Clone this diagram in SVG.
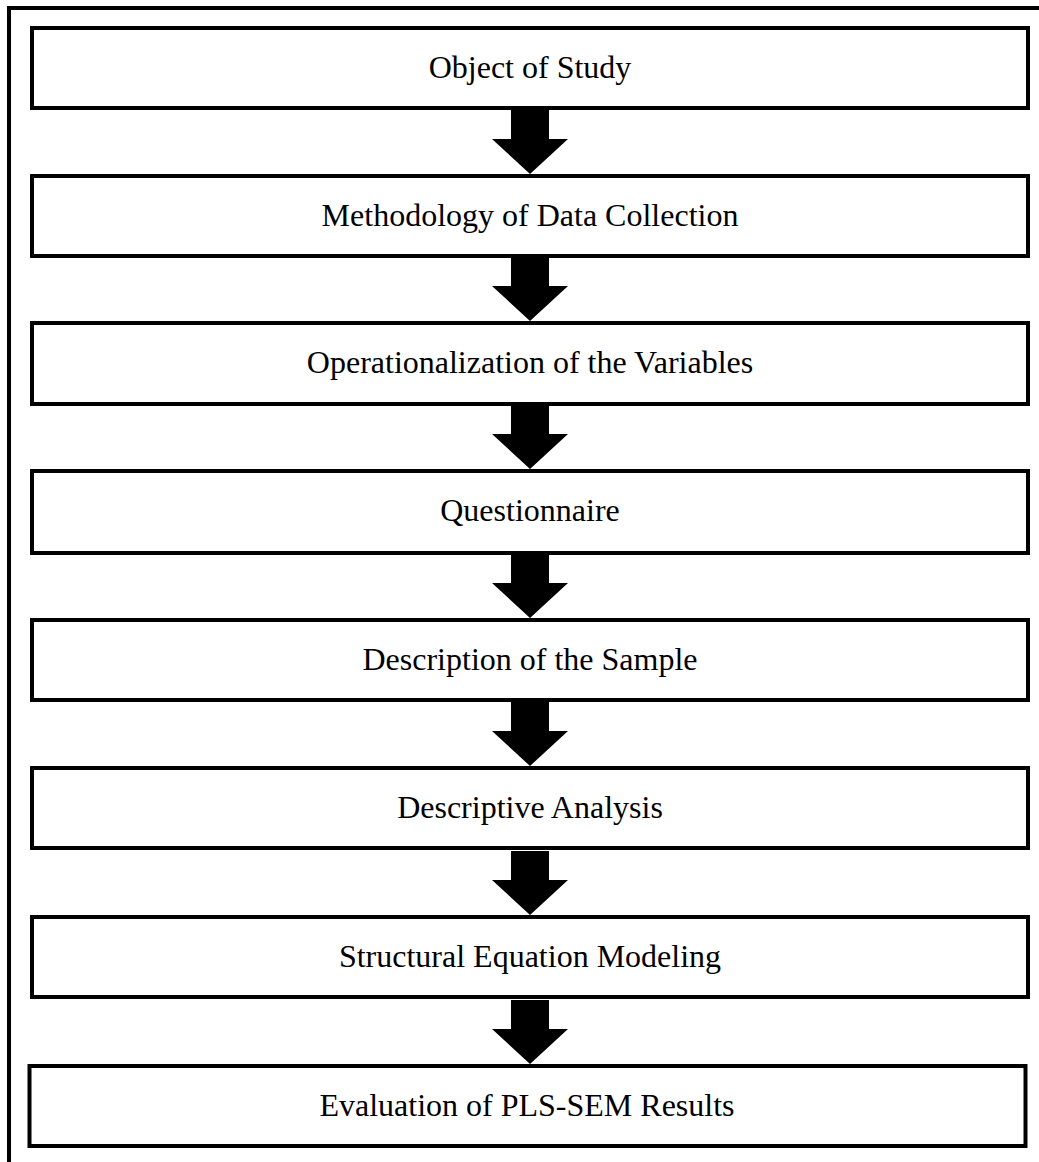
<svg xmlns="http://www.w3.org/2000/svg" width="1039" height="1162" viewBox="0 0 1039 1162">
  <style>
    .box { fill: #ffffff; stroke: #000000; stroke-width: 4; }
    .label { font-family: "Liberation Serif", "Times New Roman", serif; font-size: 32px; fill: #000000; text-anchor: middle; }
    .frame { fill: none; stroke: #000000; stroke-width: 4; }
    .arrow { fill: #000000; stroke: none; }
  </style>
  <defs>
    <!-- block arrow, tip at (0,0), drawn upward from the tip -->
    <path id="blockArrow" d="M -19 -64 L 19 -64 L 19 -35 L 38 -35 L 0 0 L -38 -35 L -19 -35 Z"/>
  </defs>
  <rect width="1039" height="1162" fill="#ffffff"/>

  <!-- open outer frame: top and left edges -->
  <path class="frame" d="M 9 1162 L 9 8 L 1039 8"/>

  <!-- connectors -->
  <g id="connectors" class="arrow">
    <use href="#blockArrow" x="530" y="174"/>
    <use href="#blockArrow" x="530" y="321"/>
    <use href="#blockArrow" x="530" y="469"/>
    <use href="#blockArrow" x="530" y="618"/>
    <use href="#blockArrow" x="530" y="766"/>
    <use href="#blockArrow" x="530" y="915"/>
    <use href="#blockArrow" x="530" y="1064"/>
  </g>

  <g id="node-object">
    <rect class="box" x="32" y="28" width="996" height="80"/>
    <text class="label" x="530" y="78">Object of Study</text>
  </g>
  <g id="node-methodology">
    <rect class="box" x="32" y="176" width="996" height="80"/>
    <text class="label" x="530" y="226">Methodology of Data Collection</text>
  </g>
  <g id="node-operationalization">
    <rect class="box" x="32" y="323" width="996" height="81"/>
    <text class="label" x="530" y="373">Operationalization of the Variables</text>
  </g>
  <g id="node-questionnaire">
    <rect class="box" x="32" y="471" width="996" height="82"/>
    <text class="label" x="530" y="521">Questionnaire</text>
  </g>
  <g id="node-sample">
    <rect class="box" x="32" y="620" width="996" height="80"/>
    <text class="label" x="530" y="670">Description of the Sample</text>
  </g>
  <g id="node-descriptive">
    <rect class="box" x="32" y="768" width="996" height="80"/>
    <text class="label" x="530" y="818">Descriptive Analysis</text>
  </g>
  <g id="node-sem">
    <rect class="box" x="32" y="917" width="996" height="80"/>
    <text class="label" x="530" y="967">Structural Equation Modeling</text>
  </g>
  <g id="node-evaluation">
    <rect class="box" x="29.5" y="1066" width="996" height="80"/>
    <text class="label" x="527" y="1116">Evaluation of PLS-SEM Results</text>
  </g>
</svg>
